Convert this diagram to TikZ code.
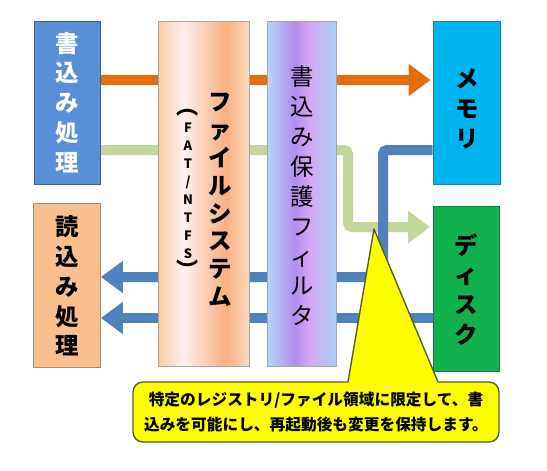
\documentclass[tikz,border=0pt]{standalone}
\usepackage{fontspec}
\newfontfamily\jp{Noto Sans CJK JP}
\usetikzlibrary{positioning,arrows.meta,backgrounds}
\newlength\px
\setlength\px{0.03cm}
\definecolor{writeblue}{HTML}{588FD6}
\definecolor{writeedge}{HTML}{3A6298}
\definecolor{readpeach}{HTML}{F9BF8F}
\definecolor{readedge}{HTML}{B08868}
\definecolor{memblue}{HTML}{00B4F0}
\definecolor{memedge}{HTML}{1A7FA8}
\definecolor{diskgreen}{HTML}{12B04F}
\definecolor{diskedge}{HTML}{177A3A}
\definecolor{writeflow}{HTML}{E46C0A}
\definecolor{diskflow}{HTML}{C3D69B}
\definecolor{readflow}{HTML}{4F81BD}
\definecolor{noteyellow}{HTML}{FFFF00}
\definecolor{noteedge}{HTML}{4F6228}
\definecolor{fsA}{HTML}{F9CBA6}
\definecolor{fsB}{HTML}{FDF0F0}
\definecolor{fsC}{HTML}{F8B080}
\definecolor{fsD}{HTML}{FBD8BE}
\definecolor{flA}{HTML}{B6D6F8}
\definecolor{flB}{HTML}{B48CEE}
\definecolor{flC}{HTML}{D7A6F6}
\definecolor{flD}{HTML}{A9CEF4}
% tikz maps the path onto the middle of the shading (25bp to 75bp)
\pgfdeclarehorizontalshading{fsshade}{100bp}{color(0bp)=(fsA); color(25bp)=(fsA); color(39bp)=(fsB); color(62bp)=(fsC); color(75bp)=(fsD); color(100bp)=(fsD)}
\pgfdeclarehorizontalshading{filtershade}{100bp}{color(0bp)=(flA); color(25bp)=(flA); color(45bp)=(flB); color(56bp)=(flC); color(75bp)=(flD); color(100bp)=(flD)}

\begin{document}
\begin{tikzpicture}[x=\px,y=-\px,
      box/.style={rectangle,draw,line width=0.8pt,inner sep=0pt,align=center,
        font=\jp\bfseries\fontsize{20}{25.5}\selectfont},
      bar/.style={rectangle,draw=gray!70,line width=0.8pt,inner sep=0pt,
        minimum height=345\px},
      flow/.style={line width=0.3cm,rounded corners=0.12cm,
        -{Triangle[width=0.93cm,length=0.66cm]}},
      note/.style={rectangle,rounded corners=0.3cm,fill=noteyellow,draw=noteedge,
        line width=1.2pt,minimum width=366\px,minimum height=60\px,align=center,
        font=\jp\bfseries\fontsize{13.4}{21}\selectfont}]
      \useasboundingbox (0,0) rectangle (547,471);

      \node[box,fill=writeblue,draw=writeedge,text=white,minimum width=66\px,
        minimum height=163\px] (write) at (67,102.5) {書\\込\\み\\処\\理};
      \node[box,fill=readpeach,draw=readedge,minimum width=67\px,
        minimum height=164\px] (read) [below=19\px of write] {読\\込\\み\\処\\理};
      \node[bar,shading=fsshade,minimum width=91\px] (fs) at (203.5,193.5) {};
      \node[bar,shading=filtershade,minimum width=69\px] (filter) at (301.5,193.5) {};
      \node[box,fill=memblue,draw=memedge,minimum width=67\px,
        minimum height=163\px] (mem) at (466.5,102.5) {};
      \node[box,fill=diskgreen,draw=diskedge,minimum width=66\px,
        minimum height=165\px] (disk) [below=22\px of mem] {デ\\ィ\\ス\\ク};

      \node[box,draw=none] (memname) at (467,109) {メ\\モ\\リ};
      \node[align=center,font=\jp\bfseries\fontsize{20}{23.8}\selectfont]
        (fsname) at (220,200) {フ\\ァ\\イ\\ル\\シ\\ス\\テ\\ム};
      \node[align=center,font=\jp\bfseries\fontsize{11}{15.3}\selectfont]
        (fstype) at (188,194) {{\fontsize{19}{15.3}\selectfont ︵}\\F\\A\\T\\/\\N\\T\\F\\S\\{\fontsize{19}{15.3}\selectfont ︶}};
      \node[align=center,font=\jp\fontsize{20}{25.5}\selectfont]
        (filtername) at (302,196) {書\\込\\み\\保\\護\\フ\\ィ\\ル\\タ};

      % arrows behind the boxes
      \coordinate (orow) at (0,80);
      \coordinate (g1) at (348,150);
      \coordinate (g2) at (348,227);
      \coordinate (b1) at (383,150);
      \coordinate (b2) at (383,277);
      \coordinate (b3) at (0,318);
      \begin{scope}[on background layer]
        \draw[flow,writeflow] (write.east |- orow) -- ([xshift=-2\px]mem.west |- orow);
        \draw[flow,diskflow] (write.east |- g1) -- (g1) -- (g2) -- ([xshift=-3\px]disk.west |- g2);
        \draw[flow,readflow] (mem.west |- b1) -- (b1) -- (b2) -- (read.east |- b2);
        \draw[flow,readflow] (disk.west |- b3) -- (read.east |- b3);
      \end{scope}

      % callout
      \node[note] (note) at (316,412)
        {特定のレジストリ/ファイル領域に限定して、書\\込みを可能にし、再起動後も変更を保持します。};
      \coordinate (tip) at (374,229);
      \coordinate (pl) at (348,382);
      \coordinate (pr) at (438,382);
      \fill[noteyellow] (pl) -- (tip) -- (pr) -- ([yshift=-4pt]pr) -- ([yshift=-4pt]pl) -- cycle;
      \draw[noteedge,line width=1.2pt,line join=round] (pl) -- (tip) -- (pr);
    \end{tikzpicture}
\end{document}
